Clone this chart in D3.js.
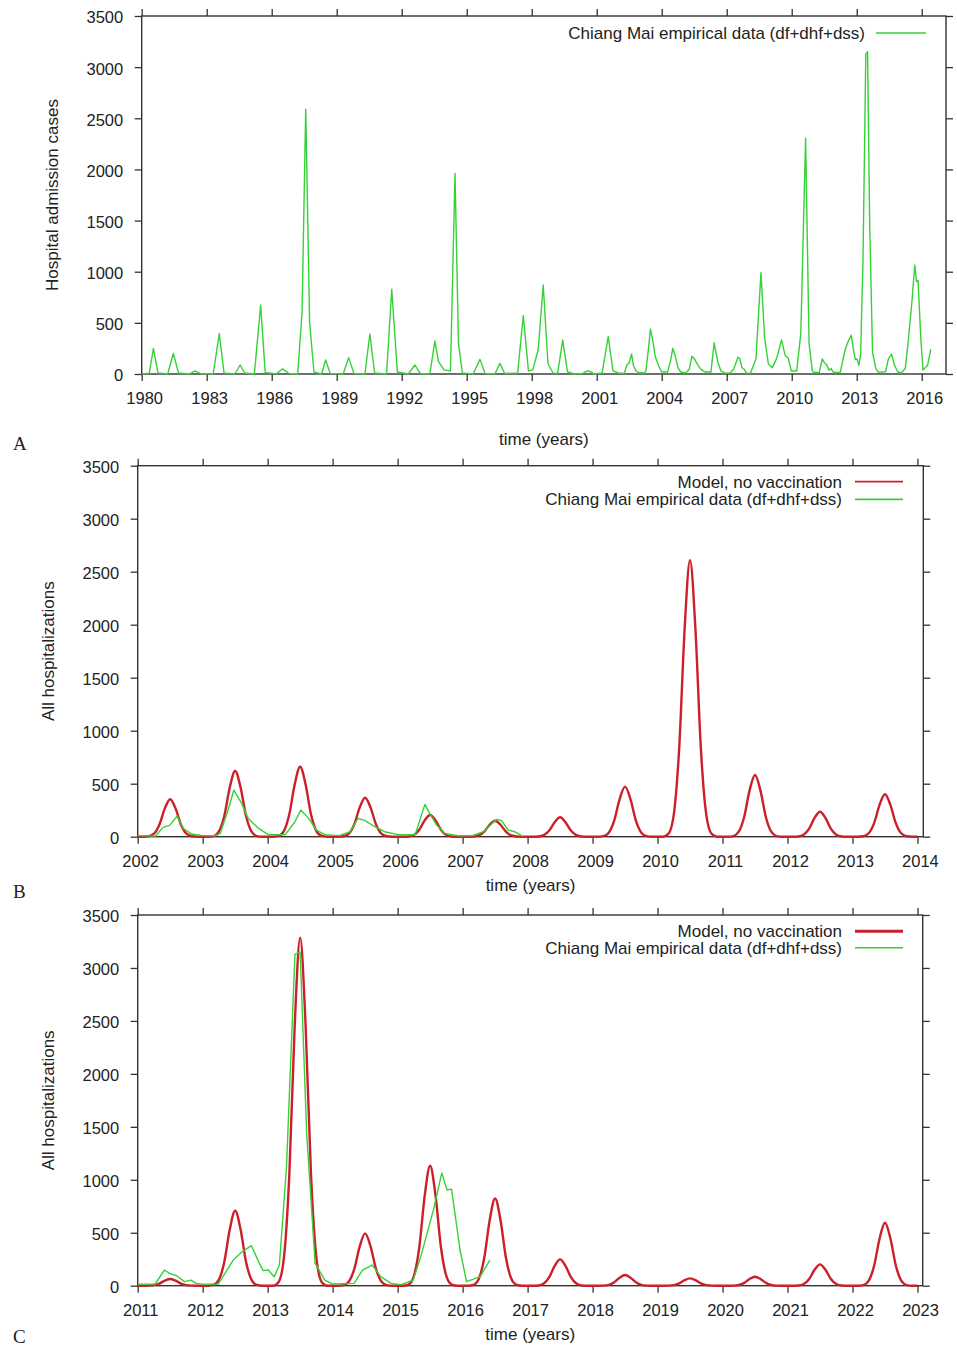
<!DOCTYPE html>
<html>
<head>
<meta charset="utf-8">
<script src="https://cdn.jsdelivr.net/npm/d3@7"></script>
<style>
  html, body { margin: 0; padding: 0; background: #fff; }
  svg { display: block; }
  text { fill: #222; }
</style>
</head>
<body>
<svg id="chart" width="957" height="1348"></svg>
<script>
// ---------------- DATA ----------------
const yTicks = [0, 500, 1000, 1500, 2000, 2500, 3000, 3500];
const xTicksA = [1980, 1983, 1986, 1989, 1992, 1995, 1998, 2001, 2004, 2007, 2010, 2013, 2016];
const xTicksB = [2002, 2003, 2004, 2005, 2006, 2007, 2008, 2009, 2010, 2011, 2012, 2013, 2014];
const xTicksC = [2011, 2012, 2013, 2014, 2015, 2016, 2017, 2018, 2019, 2020, 2021, 2022, 2023];

const nameModel = "Model, no vaccination";
const nameEmpirical = "Chiang Mai empirical data (df+dhf+dss)";
const yTitleA = "Hospital admission cases";
const yTitleBC = "All hospitalizations";
const xTitle = "time (years)";

// Chiang Mai empirical monthly hospital admissions, [time (years), cases]
const empirical = [
  [1980.00,0],[1980.35,8],[1980.54,250],[1980.75,10],
  [1981.20,0],[1981.46,200],[1981.70,10],
  [1982.20,0],[1982.46,30],[1982.70,5],
  [1983.30,0],[1983.58,395],[1983.80,10],
  [1984.30,0],[1984.54,88],[1984.75,10],
  [1985.20,0],[1985.49,675],[1985.70,15],
  [1986.20,0],[1986.50,50],[1986.80,5],
  [1987.20,0],[1987.40,600],[1987.57,2590],[1987.75,500],[1987.95,20],
  [1988.30,0],[1988.49,137],[1988.70,5],
  [1989.30,0],[1989.55,160],[1989.80,5],
  [1990.30,0],[1990.53,391],[1990.75,10],
  [1991.30,0],[1991.54,828],[1991.80,20],
  [1992.30,0],[1992.61,88],[1992.85,5],
  [1993.30,0],[1993.53,322],[1993.70,120],[1993.95,40],
  [1994.25,30],[1994.46,1960],[1994.62,300],[1994.80,10],
  [1995.30,0],[1995.61,143],[1995.85,5],
  [1996.30,0],[1996.53,104],[1996.75,5],
  [1997.35,10],[1997.61,570],[1997.85,30],
  [1998.05,40],[1998.30,240],[1998.53,870],[1998.75,100],[1999.00,5],
  [1999.20,10],[1999.43,332],[1999.65,20],
  [2000.00,0],[2000.35,5],[2000.60,32],[2000.90,0],
  [2001.25,10],[2001.53,365],[2001.75,30],
  [2002.00,10],[2002.27,5],[2002.39,88],[2002.49,107],[2002.61,195],[2002.70,78],[2002.83,25],[2002.98,12],
  [2003.20,10],[2003.27,30],[2003.39,250],[2003.48,440],[2003.60,314],[2003.70,173],[2003.86,78],
  [2004.01,19],[2004.27,19],[2004.42,141],[2004.51,251],[2004.63,173],[2004.75,63],[2004.88,19],
  [2005.10,10],[2005.27,47],[2005.39,173],[2005.50,151],[2005.65,94],[2005.80,47],
  [2006.01,19],[2006.27,19],[2006.42,305],[2006.50,214],[2006.60,110],[2006.73,31],[2006.93,9],
  [2007.15,10],[2007.32,47],[2007.52,163],[2007.60,151],[2007.70,63],[2007.80,47],[2007.92,6],
  [2008.10,10],[2008.35,150],[2008.58,991],[2008.75,350],[2008.92,100],
  [2009.10,60],[2009.30,150],[2009.53,332],[2009.70,180],[2009.84,156],[2009.98,30],
  [2010.23,29],[2010.42,400],[2010.64,2305],[2010.80,300],[2010.95,30],
  [2011.00,15],[2011.27,16],[2011.41,148],[2011.49,116],[2011.60,94],[2011.72,38],[2011.82,53],[2011.90,22],
  [2012.00,15],[2012.24,16],[2012.47,242],[2012.62,327],[2012.75,378],[2012.86,227],[2012.93,142],
  [2013.01,148],[2013.10,85],[2013.18,195],[2013.29,1123],[2013.42,3130],[2013.50,3150],[2013.60,1440],[2013.73,211],[2013.88,53],
  [2014.00,16],[2014.33,22],[2014.46,148],[2014.61,195],[2014.74,85],[2014.90,22],
  [2015.05,10],[2015.24,53],[2015.37,305],[2015.55,714],[2015.68,1065],[2015.76,903],[2015.83,912],[2015.96,337],
  [2016.06,38],[2016.27,85],[2016.42,242]
];
const empiricalEndB = 2007.92;

// Model (no vaccination), monthly values, panel B: starts 2002.0, one row per year (Jan..Dec)
const modelBStart = 2002;
const modelB = [
  0,0,4,28,113,265,353,265,113,28,4,0,        // 2002
  0,0,6,50,198,465,620,465,198,50,6,0,        // 2003
  0,0,7,53,211,495,660,495,211,53,7,0,        // 2004
  0,0,4,29,118,276,368,276,118,29,4,0,        // 2005
  0,0,2,16,66,154,205,154,66,16,2,0,          // 2006
  0,0,2,12,48,113,151,113,48,12,2,0,          // 2007
  0,0,2,15,59,137,183,137,59,15,2,0,          // 2008
  0,0,5,38,151,354,472,354,151,38,5,0,        // 2009
  0,0,26,209,835,1957,2609,1957,835,209,26,0, // 2010
  0,0,6,47,186,437,582,437,186,47,6,0,        // 2011
  0,0,2,19,76,177,236,177,76,19,2,0,          // 2012
  0,0,4,32,128,300,400,300,128,32,4,0,        // 2013
  0                                           // 2014.0
];

// Model (no vaccination), monthly values, panel C: starts 2011.0
const modelCStart = 2011;
const modelC = [
  0,0,1,5,20,47,63,47,20,5,1,0,               // 2011
  0,0,7,57,227,531,708,531,227,57,7,0,        // 2012
  0,0,33,263,1051,2464,3285,2464,1051,263,33,0, // 2013
  0,0,5,40,158,371,494,371,158,40,5,0,        // 2014
  0,0,11,91,363,850,1133,850,363,91,11,0,     // 2015
  0,0,8,66,264,618,824,618,264,66,8,0,        // 2016
  0,0,2,20,80,187,249,187,80,20,2,0,          // 2017
  0,0,1,8,32,76,101,76,32,8,1,0,              // 2018
  0,0,1,6,22,52,69,52,22,6,1,0,               // 2019
  0,0,1,7,27,64,85,64,27,7,1,0,               // 2020
  0,0,2,16,64,151,201,151,64,16,2,0,          // 2021
  0,0,6,48,190,446,595,446,190,48,6,0,        // 2022
  0                                           // 2023.0
];

// ---------------- LAYOUT / STYLE ----------------
const GREEN = "#35d235";
const RED = "#cc1f2a";
const AXIS = "#333";
const SANS = '"Liberation Sans", Arial, Helvetica, sans-serif';
const SERIF = '"Liberation Serif", "DejaVu Serif", serif';

const panels = [
  { letter: "A", left: 141.7, right: 946, top: 16, bottom: 374, xDomain: [1980, 2017.12],
    xTicks: xTicksA, yTitle: yTitleA, yTitleX: 58, xTitleY: 445, letterY: 450,
    emp: empirical, model: null,
    legend: { textX: 865, lineX1: 876, lineX2: 926, rows: [{ y: 33, name: nameEmpirical, color: GREEN, w: 1.4 }] } },
  { letter: "B", left: 137.7, right: 923.3, top: 465.7, bottom: 836.7, xDomain: [2002, 2014.09],
    xTicks: xTicksB, yTitle: yTitleBC, yTitleX: 54, xTitleY: 891, letterY: 898,
    emp: empirical.filter(d => d[0] >= 2002 && d[0] <= empiricalEndB),
    model: modelB.map((v, i) => [modelBStart + i / 12, v]),
    legend: { textX: 842, lineX1: 855, lineX2: 903, rows: [
      { y: 481.7, name: nameModel, color: RED, w: 1.8 },
      { y: 499.3, name: nameEmpirical, color: GREEN, w: 1.8 }] } },
  { letter: "C", left: 137.7, right: 922.7, top: 915, bottom: 1285.7, xDomain: [2011, 2023.08],
    xTicks: xTicksC, yTitle: yTitleBC, yTitleX: 54, xTitleY: 1340, letterY: 1343,
    emp: empirical.filter(d => d[0] >= 2011),
    model: modelC.map((v, i) => [modelCStart + i / 12, v]),
    legend: { textX: 842, lineX1: 855, lineX2: 903, rows: [
      { y: 931.3, name: nameModel, color: RED, w: 3 },
      { y: 947.7, name: nameEmpirical, color: GREEN, w: 1.4 }] } }
];

const svg = d3.select("#chart");
const TICK = 7;

panels.forEach(p => {
  const x = d3.scaleLinear().domain(p.xDomain).range([p.left, p.right]);
  const y = d3.scaleLinear().domain([0, 3500]).range([p.bottom, p.top]);
  const g = svg.append("g");

  // axes (outward ticks on all four sides)
  const bottomAx = g.append("g").attr("transform", `translate(0,${p.bottom})`)
    .call(d3.axisBottom(x).tickValues(p.xTicks).tickFormat(d3.format("d")).tickSize(TICK).tickSizeOuter(0).tickPadding(11.5));
  const topAx = g.append("g").attr("transform", `translate(0,${p.top})`)
    .call(d3.axisTop(x).tickValues(p.xTicks).tickFormat("").tickSize(TICK).tickSizeOuter(0));
  const leftAx = g.append("g").attr("transform", `translate(${p.left},0)`)
    .call(d3.axisLeft(y).tickValues(yTicks).tickFormat(d3.format("d")).tickSize(TICK).tickSizeOuter(0).tickPadding(11.5));
  const rightAx = g.append("g").attr("transform", `translate(${p.right},0)`)
    .call(d3.axisRight(y).tickValues(yTicks).tickFormat("").tickSize(TICK).tickSizeOuter(0));

  [bottomAx, topAx, leftAx, rightAx].forEach(a => {
    a.select(".domain").remove();
    a.selectAll(".tick line").attr("stroke", AXIS).attr("stroke-width", 1.3);
    a.selectAll(".tick text").style("font-size", "16.5px").style("fill", "#222")
      .style("font-family", SANS);
  });
  bottomAx.selectAll(".tick text").attr("dx", 2.5);
  leftAx.selectAll(".tick text").attr("dy", "0.42em");

  // border
  g.append("rect")
    .attr("x", p.left).attr("y", p.top)
    .attr("width", p.right - p.left).attr("height", p.bottom - p.top)
    .attr("fill", "none").attr("stroke", AXIS).attr("stroke-width", 1.4);

  // series
  if (p.model) {
    g.append("path").datum(p.model)
      .attr("fill", "none").attr("stroke", RED).attr("stroke-width", 2.4)
      .attr("stroke-linejoin", "round")
      .attr("d", d3.line().x(d => x(d[0])).y(d => y(d[1])).curve(d3.curveMonotoneX));
  }
  g.append("path").datum(p.emp)
    .attr("fill", "none").attr("stroke", GREEN).attr("stroke-width", 1.4)
    .attr("stroke-linejoin", "round")
    .attr("d", d3.line().x(d => x(d[0])).y(d => y(d[1])));

  // legend
  p.legend.rows.forEach(r => {
    g.append("text").attr("x", p.legend.textX).attr("y", r.y).attr("dy", "0.35em")
      .attr("text-anchor", "end").style("font-family", SANS).style("font-size", "17px").text(r.name);
    g.append("line").attr("x1", p.legend.lineX1).attr("x2", p.legend.lineX2)
      .attr("y1", r.y).attr("y2", r.y).attr("stroke", r.color).attr("stroke-width", r.w);
  });

  // axis titles
  g.append("text")
    .attr("transform", `translate(${p.yTitleX},${(p.top + p.bottom) / 2}) rotate(-90)`)
    .attr("text-anchor", "middle").style("font-family", SANS).style("font-size", "17px").text(p.yTitle);
  g.append("text")
    .attr("x", (p.left + p.right) / 2).attr("y", p.xTitleY)
    .attr("text-anchor", "middle").style("font-family", SANS).style("font-size", "17px").text(xTitle);

  // panel letter
  g.append("text").attr("x", 13).attr("y", p.letterY)
    .style("font-family", SERIF).style("font-size", "19px").text(p.letter);
});
</script>
</body>
</html>
